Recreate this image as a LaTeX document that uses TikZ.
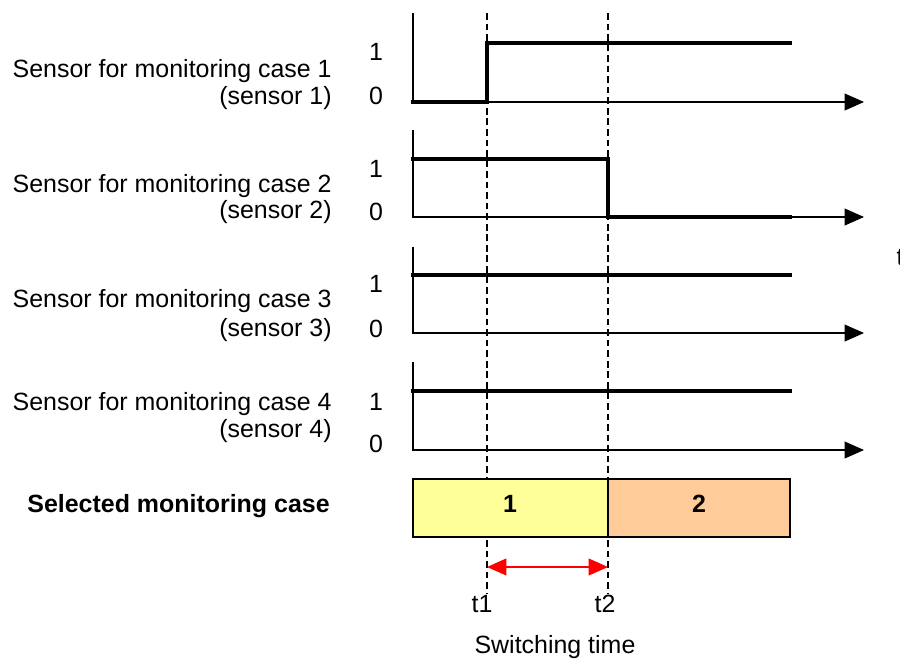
\documentclass[tikz,border=0pt]{standalone}
\usepackage{fontspec}
\setmainfont{Liberation Sans}
\usetikzlibrary{arrows.meta}
\definecolor{caseyellow}{HTML}{FFFF99}
\definecolor{caseorange}{HTML}{FFCC99}
\tikzset{
  lbl/.style={inner sep=0pt, font=\fontsize{14.2}{17}\selectfont},
  axis/.style={line width=0.9pt, -{Triangle[length=11pt,width=9.5pt]}},
  signal/.style={line width=2.6pt, line cap=rect},
  switchline/.style={line width=0.9pt, dash pattern=on 3.8pt off 2.2pt},
  casebox/.style={draw, line width=0.9pt}
}
\begin{document}
\begin{tikzpicture}[x=0.02cm,y=-0.02cm]
  \useasboundingbox (0,0) rectangle (900,660);
  % labels on the left
  \draw
    (332,77) node[lbl,anchor=base east] (n1){Sensor for monitoring case 1}
    (332,104) node[lbl,anchor=base east] (s1){(sensor 1)}
    (332,192) node[lbl,anchor=base east] (n2){Sensor for monitoring case 2}
    (332,218) node[lbl,anchor=base east] (s2){(sensor 2)}
    (332,307) node[lbl,anchor=base east] (n3){Sensor for monitoring case 3}
    (332,336) node[lbl,anchor=base east] (s3){(sensor 3)}
    (332,410) node[lbl,anchor=base east] (n4){Sensor for monitoring case 4}
    (332,437) node[lbl,anchor=base east] (s4){(sensor 4)}
    (330,512) node[lbl,anchor=base east,font=\fontsize{14.2}{17}\selectfont\bfseries] (sel){Selected monitoring case};
  % levels
  \draw
    (376,60) node[lbl,anchor=base] (one1){1}
    (376,104) node[lbl,anchor=base] (zero1){0}
    (376,177) node[lbl,anchor=base] (one2){1}
    (376,220) node[lbl,anchor=base] (zero2){0}
    (376,292) node[lbl,anchor=base] (one3){1}
    (376,337) node[lbl,anchor=base] (zero3){0}
    (376,410) node[lbl,anchor=base] (one4){1}
    (376,452) node[lbl,anchor=base] (zero4){0};
  % axes
  \draw
    (413,13) coordinate (top1) (413,102) coordinate (o1) (864,102) coordinate (end1)
    (413,130) coordinate (top2) (413,217) coordinate (o2) (864,217) coordinate (end2)
    (413,247) coordinate (top3) (413,333) coordinate (o3) (864,333) coordinate (end3)
    (413,362) coordinate (top4) (413,450) coordinate (o4) (864,450) coordinate (end4);
  % switching times
  \draw
    (482,612) node[lbl,anchor=base] (t1){t1}
    (605,612) node[lbl,anchor=base] (t2){t2}
    (555,653) node[lbl,anchor=base] (sw){Switching time}
    (900,265) node[lbl,anchor=base] (t){t};
  \draw[switchline] (487,13) coordinate (d1) -- (d1 |- t1.north);
  \draw[switchline] (608,13) coordinate (d2) -- (d2 |- t2.north);
  \begin{scope}
    \draw[axis] (top1) -- (o1) -- (end1);
    \draw[axis] (top2) -- (o2) -- (end2);
    \draw[axis] (top3) -- (o3) -- (end3);
    \draw[axis] (top4) -- (o4) -- (end4);
  \end{scope}
  \begin{scope}[signal]
    \draw (o1) -- (487,102) -- (487,43) -- (790,43);
    \draw (413,159) -- (608,159) -- (608,217) -- (790,217);
    \draw (413,275) -- (790,275);
    \draw (413,391) -- (790,391);
  \end{scope}
  % selected case
  \draw[casebox,fill=caseyellow] (413,479) rectangle (608,537);
  \draw[casebox,fill=caseorange] (608,479) rectangle (790,537);
  \draw
    (510,512) node[lbl,anchor=base,font=\fontsize{14.2}{17}\selectfont\bfseries] (c1){1}
    (699,512) node[lbl,anchor=base,font=\fontsize{14.2}{17}\selectfont\bfseries] (c2){2};
  \draw[red, line width=1pt, {Triangle[length=11pt,width=9.5pt]}-{Triangle[length=11pt,width=9.5pt]}]
    (d1 |- 0,567) -- (d2 |- 0,567);
\end{tikzpicture}
\end{document}
